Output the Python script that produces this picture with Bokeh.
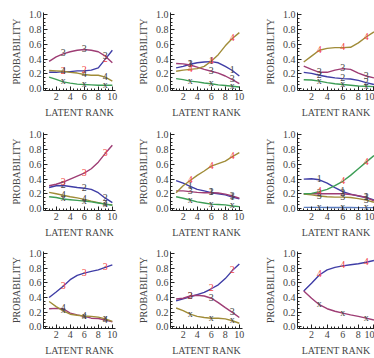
from bokeh.plotting import figure
from bokeh.layouts import gridplot
from bokeh.models import SingleIntervalTicker, PrintfTickFormatter, ColumnDataSource
from bokeh.core.properties import value
from bokeh.embed import file_html
from bokeh.resources import INLINE

# ---------------- data ----------------
RANK = [1, 2, 3, 4, 5, 6, 7, 8, 9, 10]
LABEL_RANKS = [3, 6, 9]
X_LABEL = "LATENT RANK"
Y_LABEL = "PROBABILITY"

# panel 1 (row 1, col 1)
P1_LABELS = ["2", "3", "4", "x"]
P1_KEY = "2"
P1_CURVES = [
    [0.22, 0.22, 0.23, 0.23, 0.24, 0.24, 0.25, 0.28, 0.40, 0.52],
    [0.37, 0.43, 0.47, 0.50, 0.52, 0.53, 0.52, 0.50, 0.44, 0.35],
    [0.245, 0.24, 0.235, 0.22, 0.21, 0.19, 0.18, 0.18, 0.155, 0.10],
    [0.155, 0.125, 0.09, 0.073, 0.06, 0.055, 0.05, 0.045, 0.045, 0.045],
]
# panel 2 (row 1, col 2)
P2_LABELS = ["1", "3", "4", "x"]
P2_KEY = "4"
P2_CURVES = [
    [0.28, 0.30, 0.33, 0.35, 0.36, 0.365, 0.35, 0.30, 0.245, 0.17],
    [0.34, 0.335, 0.32, 0.29, 0.26, 0.235, 0.21, 0.17, 0.12, 0.065],
    [0.235, 0.25, 0.26, 0.27, 0.30, 0.37, 0.46, 0.58, 0.68, 0.76],
    [0.135, 0.12, 0.10, 0.09, 0.075, 0.065, 0.05, 0.04, 0.03, 0.02],
]
# panel 3 (row 1, col 3)
P3_LABELS = ["2", "3", "4", "x"]
P3_KEY = "4"
P3_CURVES = [
    [0.22, 0.205, 0.18, 0.16, 0.145, 0.135, 0.13, 0.11, 0.08, 0.055],
    [0.305, 0.26, 0.22, 0.22, 0.25, 0.27, 0.26, 0.21, 0.17, 0.145],
    [0.36, 0.44, 0.52, 0.545, 0.555, 0.555, 0.56, 0.62, 0.70, 0.77],
    [0.12, 0.115, 0.10, 0.08, 0.065, 0.055, 0.045, 0.035, 0.03, 0.025],
]
# panel 4 (row 2, col 1)
P4_LABELS = ["2", "3", "4", "x"]
P4_KEY = "3"
P4_CURVES = [
    [0.285, 0.31, 0.313, 0.30, 0.285, 0.275, 0.26, 0.215, 0.14, 0.08],
    [0.31, 0.33, 0.36, 0.40, 0.44, 0.48, 0.54, 0.63, 0.75, 0.86],
    [0.22, 0.20, 0.18, 0.16, 0.145, 0.125, 0.10, 0.08, 0.06, 0.05],
    [0.16, 0.15, 0.13, 0.12, 0.11, 0.10, 0.09, 0.075, 0.06, 0.045],
]
# panel 5 (row 2, col 2)
P5_LABELS = ["1", "3", "4", "x"]
P5_KEY = "4"
P5_CURVES = [
    [0.38, 0.345, 0.30, 0.26, 0.24, 0.215, 0.20, 0.185, 0.155, 0.13],
    [0.24, 0.24, 0.23, 0.22, 0.215, 0.215, 0.21, 0.195, 0.17, 0.14],
    [0.215, 0.31, 0.38, 0.45, 0.51, 0.575, 0.61, 0.645, 0.705, 0.76],
    [0.16, 0.14, 0.115, 0.09, 0.075, 0.06, 0.055, 0.05, 0.035, 0.025],
]
# panel 6 (row 2, col 3)
P6_LABELS = ["1", "2", "3", "4", "x"]
P6_KEY = "4"
P6_CURVES = [
    [0.40, 0.405, 0.39, 0.345, 0.285, 0.23, 0.195, 0.17, 0.15, 0.115],
    [0.20, 0.20, 0.20, 0.20, 0.20, 0.20, 0.19, 0.175, 0.15, 0.105],
    [0.195, 0.185, 0.17, 0.16, 0.155, 0.155, 0.15, 0.135, 0.115, 0.085],
    [0.20, 0.205, 0.23, 0.26, 0.31, 0.37, 0.45, 0.54, 0.63, 0.72],
    [0.015, 0.015, 0.015, 0.014, 0.014, 0.013, 0.013, 0.012, 0.012, 0.012],
]
# panel 7 (row 3, col 1)
P7_LABELS = ["3", "4", "x"]
P7_KEY = "3"
P7_CURVES = [
    [0.40, 0.475, 0.555, 0.645, 0.705, 0.735, 0.76, 0.78, 0.815, 0.85],
    [0.245, 0.25, 0.245, 0.185, 0.16, 0.14, 0.115, 0.11, 0.09, 0.065],
    [0.345, 0.275, 0.215, 0.17, 0.155, 0.145, 0.14, 0.13, 0.105, 0.07],
]
# panel 8 (row 3, col 2)
P8_LABELS = ["2", "3", "x"]
P8_KEY = "2"
P8_CURVES = [
    [0.355, 0.38, 0.41, 0.44, 0.47, 0.52, 0.575, 0.66, 0.77, 0.86],
    [0.38, 0.39, 0.42, 0.43, 0.42, 0.39, 0.33, 0.26, 0.195, 0.125],
    [0.255, 0.22, 0.17, 0.14, 0.125, 0.115, 0.115, 0.105, 0.08, 0.045],
]
# panel 9 (row 3, col 3)
P9_LABELS = ["4", "x"]
P9_KEY = "4"
P9_CURVES = [
    [0.49, 0.595, 0.71, 0.78, 0.815, 0.835, 0.85, 0.865, 0.885, 0.91],
    [0.49, 0.39, 0.30, 0.245, 0.21, 0.185, 0.16, 0.14, 0.115, 0.09],
]

# ---------------- style ----------------
COLORS = ["#3F3DA6", "#9E3D74", "#A08C38", "#3D9E56", "#5B7DBF"]
KEY_COLOR = "#F24545"
LABEL_COLOR = "#444444"
FONT = "Liberation Serif"

COL_W = [127, 127, 120]
COL_XEND = [10.45, 10.45, 10.07]
COL_BR = [12, 12, 0]
ROW_H = [120, 120, 118]
ROW_BT = [12, 12, 11]
ROW_BB = [30, 30, 29]


def make_panel(labels, key, curves, col, row):
    p = figure(width=COL_W[col], height=ROW_H[row],
               x_range=(0.2, COL_XEND[col]), y_range=(-0.027, 1.033),
               output_backend="svg", toolbar_location=None,
               min_border_left=43, min_border_right=COL_BR[col],
               min_border_top=ROW_BT[row], min_border_bottom=ROW_BB[row])
    p.outline_line_color = None
    p.xgrid.visible = False
    p.ygrid.visible = False
    p.background_fill_color = "white"
    p.border_fill_color = "white"

    for i, vals in enumerate(curves):
        p.line(RANK, vals, line_color=COLORS[i], line_width=1.4)

    for i, (lab, vals) in enumerate(zip(labels, curves)):
        ys = [vals[RANK.index(r)] for r in LABEL_RANKS]
        src = ColumnDataSource(dict(x=LABEL_RANKS, y=ys, t=[lab] * len(ys)))
        p.text(x="x", y="y", text="t", source=src,
               text_color=KEY_COLOR if lab == key else LABEL_COLOR,
               text_font=value(FONT), text_font_size="10px",
               text_align="center", text_baseline="alphabetic", y_offset=-1)

    p.xaxis.ticker = SingleIntervalTicker(interval=2, num_minor_ticks=4)
    p.yaxis.ticker = SingleIntervalTicker(interval=0.2, num_minor_ticks=4)
    p.yaxis.formatter = PrintfTickFormatter(format="%.1f")
    p.xaxis.axis_label = X_LABEL
    p.yaxis.axis_label = Y_LABEL
    for ax in p.axis:
        ax.major_tick_in = 4
        ax.major_tick_out = 0
        ax.minor_tick_in = 2
        ax.minor_tick_out = 0
        ax.axis_line_color = "#222222"
        ax.major_tick_line_color = "#222222"
        ax.minor_tick_line_color = "#222222"
        ax.major_label_text_font = FONT
        ax.major_label_text_font_size = "10px"
        ax.major_label_text_color = "#444444"
        ax.axis_label_text_font = FONT
        ax.axis_label_text_font_size = "10px"
        ax.axis_label_text_font_style = "normal"
        ax.axis_label_text_color = "#444444"
    p.xaxis.major_label_standoff = 2
    p.xaxis.axis_label_standoff = 4
    p.yaxis.major_label_standoff = 2
    p.yaxis.axis_label_standoff = 4
    return p


PANELS = [
    (P1_LABELS, P1_KEY, P1_CURVES), (P2_LABELS, P2_KEY, P2_CURVES), (P3_LABELS, P3_KEY, P3_CURVES),
    (P4_LABELS, P4_KEY, P4_CURVES), (P5_LABELS, P5_KEY, P5_CURVES), (P6_LABELS, P6_KEY, P6_CURVES),
    (P7_LABELS, P7_KEY, P7_CURVES), (P8_LABELS, P8_KEY, P8_CURVES), (P9_LABELS, P9_KEY, P9_CURVES),
]

rows = []
for r in range(3):
    rows.append([make_panel(*PANELS[r * 3 + c], c, r) for c in range(3)])

grid = gridplot(rows, toolbar_location=None)

open("out.html", "w").write(file_html(grid, INLINE))
